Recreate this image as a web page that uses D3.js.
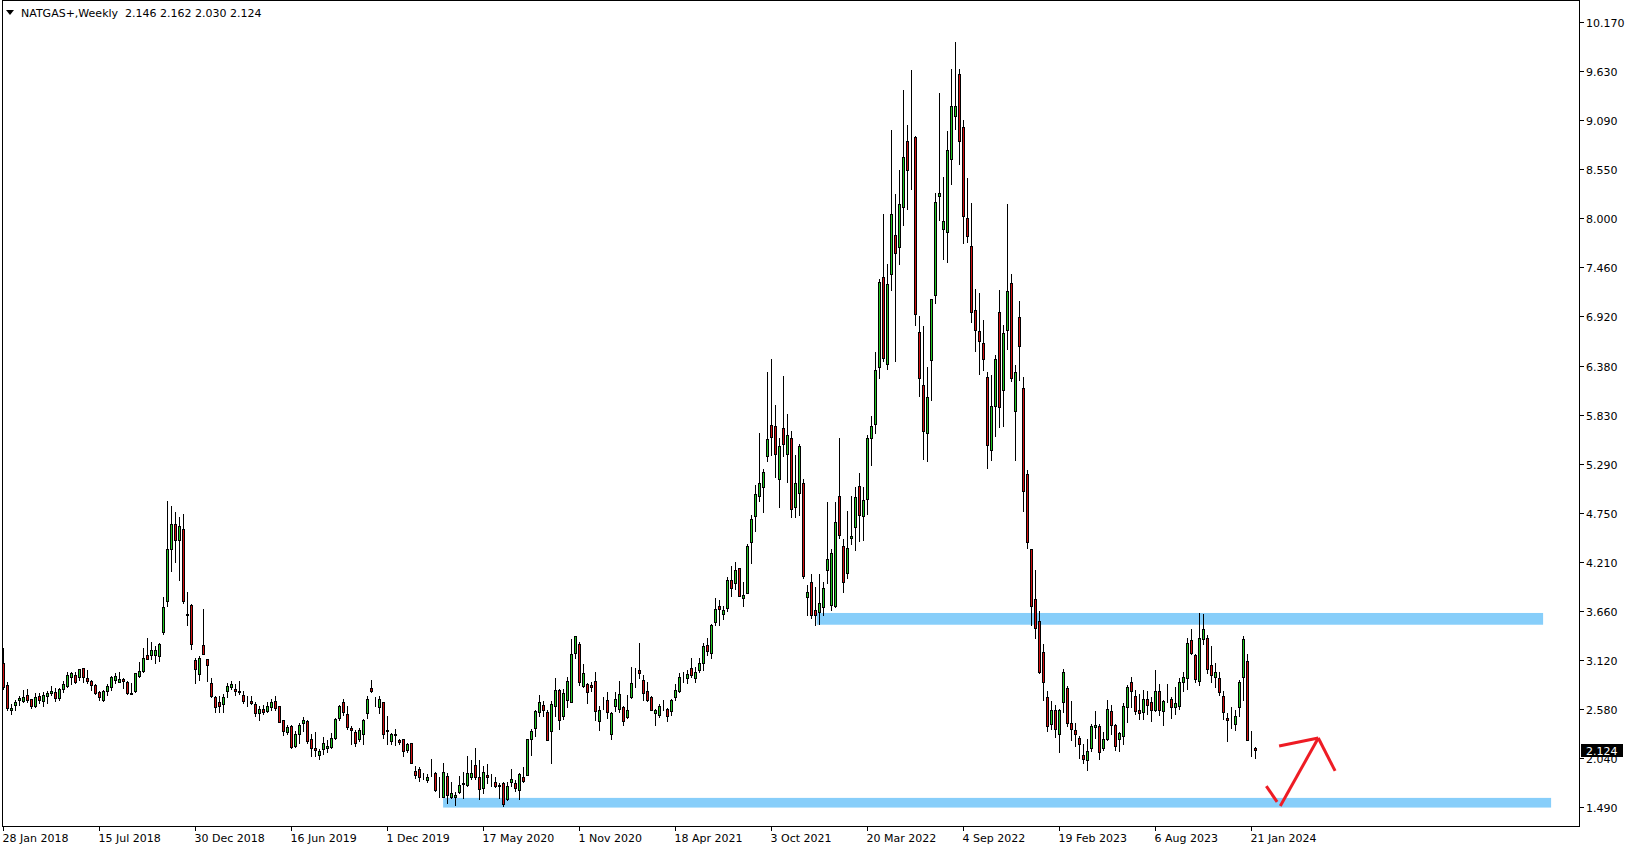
<!DOCTYPE html>
<html><head><meta charset="utf-8">
<script src="https://cdn.jsdelivr.net/npm/d3@7"></script>
<style>html,body{margin:0;padding:0;background:#fff;overflow:hidden}</style>
</head><body><svg id="c" width="1629" height="850"></svg>
<script>
// ---------- DATA ----------
const symbolTitle = "NATGAS+,Weekly";
const firstWeek = "2018-01-28";
const open = [
3.09,2.84,2.56,2.62,2.68,2.67,2.73,2.69,2.61,2.72,
2.66,2.72,2.75,2.76,2.70,2.80,2.83,2.93,2.95,2.93,
3.03,2.92,2.89,2.84,2.76,2.68,2.78,2.82,2.90,2.88,
2.91,2.88,2.74,2.77,2.94,3.00,3.17,3.17,3.17,3.16,
3.43,3.77,4.35,4.62,4.45,4.57,3.63,3.73,3.12,2.96,
3.28,3.13,2.86,2.71,2.65,2.63,2.77,2.82,2.80,2.78,
2.73,2.67,2.67,2.63,2.53,2.58,2.55,2.60,2.67,2.61,
2.45,2.32,2.39,2.17,2.30,2.42,2.44,2.24,2.14,2.07,
2.13,2.15,2.16,2.26,2.48,2.65,2.52,2.37,2.32,2.25,
2.30,2.53,2.81,2.66,2.60,2.65,2.34,2.22,2.30,2.23,
2.24,2.12,2.20,1.89,1.91,1.84,1.79,1.89,1.87,1.72,
1.60,1.84,1.60,1.60,1.66,1.76,1.74,1.82,1.96,1.82,
1.70,1.85,1.79,1.77,1.74,1.76,1.58,1.77,1.76,1.68,
1.82,1.85,2.25,2.37,2.54,2.62,2.54,2.33,2.61,2.79,
2.50,2.68,2.65,3.20,3.30,2.83,2.85,2.84,2.89,2.44,
2.67,2.68,2.30,2.61,2.58,2.60,2.49,2.71,2.90,3.01,
2.90,2.78,2.71,2.53,2.51,2.61,2.58,2.55,2.71,2.78,
2.93,2.92,3.03,2.92,3.01,3.08,3.28,3.19,3.54,3.71,
3.63,3.69,4.00,3.97,4.14,3.80,3.86,4.42,4.71,4.93,
5.03,5.37,5.72,5.71,5.12,5.68,5.40,5.57,4.81,4.96,
5.07,3.81,3.98,3.67,3.65,3.70,4.11,3.73,3.72,4.93,
4.38,4.08,4.47,4.59,5.04,4.71,4.90,5.57,5.73,6.36,
7.35,6.39,7.39,7.82,7.68,8.13,8.85,8.74,8.90,6.74,
6.16,5.63,6.43,7.15,8.25,7.88,7.85,8.66,9.13,9.59,
9.01,8.00,7.69,6.99,6.76,6.62,6.25,5.44,5.93,6.96,
6.10,6.77,7.28,5.87,6.91,6.13,5.17,4.34,3.79,3.55,
3.21,2.71,2.41,2.56,2.30,2.65,2.81,2.42,2.34,2.26,
2.07,2.01,2.14,2.38,2.39,2.14,2.25,2.55,2.40,2.25,
2.28,2.60,2.87,2.72,2.57,2.54,2.69,2.65,2.56,2.78,
2.55,2.73,2.69,2.60,2.61,2.87,2.92,3.34,3.17,2.89,
3.35,3.36,3.06,2.93,2.92,2.72,2.48,2.49,2.41,2.60,
2.93,3.11,2.16,2.146];
const high = [
3.25,2.88,2.63,2.68,2.72,2.79,2.80,2.69,2.75,2.75,
2.76,2.78,2.83,2.81,2.81,2.89,2.99,2.99,2.98,3.02,
3.03,3.01,2.90,2.85,2.78,2.79,2.85,2.94,2.97,2.99,
2.92,2.89,2.86,2.97,3.10,3.25,3.36,3.32,3.27,3.31,
3.81,4.88,4.82,4.75,4.70,4.73,3.87,3.74,3.14,3.16,
3.68,3.13,2.92,2.72,2.72,2.74,2.86,2.89,2.85,2.89,
2.77,2.72,2.72,2.65,2.61,2.62,2.65,2.69,2.72,2.61,
2.46,2.40,2.40,2.33,2.42,2.49,2.45,2.30,2.32,2.13,
2.27,2.23,2.31,2.48,2.62,2.69,2.61,2.39,2.34,2.37,
2.47,2.72,2.90,2.71,2.72,2.65,2.50,2.31,2.36,2.24,
2.25,2.20,2.20,1.95,1.94,1.87,1.86,2.02,1.88,1.83,
1.98,1.87,1.77,1.66,1.84,1.88,2.06,2.01,2.15,2.01,
1.95,1.97,1.86,1.82,1.76,1.77,1.77,1.91,1.79,1.87,
1.93,2.24,2.36,2.57,2.73,2.66,2.57,2.66,2.92,2.80,
2.80,2.93,3.35,3.38,3.32,3.07,2.86,2.87,2.99,2.61,
2.71,2.76,2.54,2.76,2.89,2.61,2.73,3.04,3.03,3.31,
2.95,2.88,2.72,2.58,2.63,2.68,2.59,2.69,2.85,2.97,
2.99,3.01,3.14,3.04,3.14,3.31,3.36,3.52,3.80,3.78,
3.71,4.04,4.16,4.20,4.14,3.98,4.40,4.72,5.05,5.63,
5.23,6.30,6.45,5.94,5.57,6.26,5.84,5.65,5.38,5.51,
5.12,3.95,4.07,3.92,4.07,3.98,4.87,4.34,4.87,5.57,
4.46,4.77,4.93,5.03,5.18,5.03,5.61,5.82,6.52,7.33,
8.05,7.50,8.98,8.27,8.53,9.42,9.03,9.64,8.91,6.92,
6.81,6.36,7.11,8.28,9.39,8.46,8.96,9.65,9.95,9.65,
9.09,8.45,8.17,7.22,7.17,6.88,6.30,6.27,6.49,7.21,
6.82,8.16,7.39,6.38,7.09,6.25,5.22,4.34,4.11,3.66,
3.30,2.78,2.66,2.62,2.58,3.02,2.83,2.67,2.42,2.28,
2.19,2.24,2.41,2.55,2.41,2.32,2.68,2.62,2.41,2.32,
2.64,2.84,2.93,2.79,2.74,2.79,2.77,2.71,3.01,2.85,
2.68,2.85,2.71,2.82,2.92,2.98,3.36,3.46,3.18,3.64,
3.63,3.39,3.27,3.08,2.99,2.78,2.53,2.60,2.57,2.90,
3.38,3.18,2.33,2.162];
const low = [
2.80,2.56,2.52,2.57,2.62,2.65,2.65,2.59,2.60,2.64,
2.61,2.64,2.73,2.67,2.68,2.76,2.82,2.85,2.86,2.90,
2.87,2.86,2.79,2.74,2.68,2.67,2.73,2.79,2.86,2.87,
2.81,2.74,2.74,2.76,2.93,2.99,3.13,3.13,3.09,3.11,
3.41,3.72,4.10,4.20,4.00,3.75,3.50,3.24,2.86,2.90,
3.18,2.89,2.71,2.54,2.54,2.54,2.71,2.80,2.73,2.74,
2.64,2.61,2.63,2.50,2.46,2.52,2.54,2.56,2.57,2.43,
2.29,2.30,2.14,2.16,2.20,2.33,2.20,2.06,2.06,2.02,
2.08,2.10,2.15,2.25,2.46,2.51,2.36,2.19,2.17,2.22,
2.19,2.48,2.76,2.61,2.53,2.26,2.19,2.19,2.18,2.19,
2.06,2.10,1.98,1.81,1.78,1.80,1.77,1.84,1.67,1.60,
1.60,1.54,1.59,1.51,1.65,1.59,1.73,1.80,1.80,1.58,
1.65,1.76,1.73,1.71,1.59,1.50,1.57,1.72,1.67,1.58,
1.77,1.85,2.07,2.28,2.50,2.50,2.23,1.98,2.50,2.36,
2.47,2.60,2.65,3.14,2.84,2.82,2.64,2.77,2.45,2.34,
2.58,2.48,2.25,2.55,2.54,2.40,2.48,2.70,2.82,2.92,
2.68,2.66,2.56,2.40,2.49,2.56,2.44,2.51,2.68,2.76,
2.88,2.86,2.93,2.88,2.99,3.01,3.17,3.14,3.51,3.50,
3.57,3.66,3.82,3.90,3.83,3.72,3.86,4.19,4.54,4.88,
4.75,5.32,5.38,5.14,4.81,5.37,5.09,4.70,4.70,4.72,
4.03,3.61,3.58,3.50,3.52,3.62,3.97,3.67,3.70,4.47,
3.87,4.02,4.40,4.33,4.43,4.44,4.73,5.27,5.63,6.23,
6.42,6.33,7.21,6.42,7.50,7.93,8.10,8.32,6.82,6.04,
5.34,5.32,5.99,7.06,7.98,7.55,7.52,8.38,8.99,8.60,
7.73,7.74,6.85,6.53,6.28,6.32,5.24,5.33,5.59,5.69,
5.71,6.56,6.20,5.33,6.21,4.76,4.36,3.51,3.36,2.97,
2.68,2.33,2.35,2.27,2.10,2.54,2.39,2.23,2.17,2.04,
1.98,1.90,2.11,2.26,2.02,2.12,2.23,2.30,2.12,2.11,
2.19,2.43,2.60,2.52,2.47,2.47,2.52,2.44,2.55,2.51,
2.40,2.65,2.48,2.52,2.58,2.78,2.80,3.18,2.87,2.84,
3.30,2.97,2.88,2.82,2.73,2.47,2.22,2.37,2.34,2.50,
2.68,2.23,2.06,2.030];
const close = [
2.82,2.59,2.59,2.65,2.70,2.71,2.68,2.61,2.71,2.68,
2.73,2.75,2.77,2.70,2.80,2.85,2.95,2.97,2.88,3.02,
2.93,2.89,2.84,2.75,2.71,2.78,2.83,2.93,2.94,2.91,
2.89,2.75,2.75,2.97,3.00,3.14,3.13,3.23,3.23,3.29,
3.70,4.35,4.62,4.45,4.60,3.77,3.62,3.29,3.02,3.14,
3.18,3.06,2.72,2.60,2.61,2.71,2.83,2.85,2.77,2.76,
2.66,2.66,2.64,2.53,2.58,2.54,2.61,2.65,2.59,2.43,
2.33,2.38,2.16,2.30,2.40,2.46,2.22,2.14,2.12,2.11,
2.20,2.17,2.26,2.47,2.61,2.54,2.38,2.34,2.20,2.34,
2.46,2.69,2.77,2.66,2.69,2.30,2.33,2.30,2.29,2.21,
2.11,2.19,1.98,1.85,1.83,1.84,1.83,1.89,1.68,1.72,
1.88,1.63,1.65,1.63,1.74,1.75,1.87,1.87,1.82,1.69,
1.88,1.82,1.79,1.73,1.72,1.53,1.73,1.80,1.70,1.86,
1.78,2.24,2.33,2.55,2.65,2.57,2.23,2.63,2.79,2.46,
2.75,2.89,3.18,3.38,2.88,2.97,2.76,2.82,2.55,2.57,
2.67,2.54,2.53,2.69,2.74,2.44,2.57,2.86,2.90,2.97,
2.75,2.68,2.57,2.57,2.61,2.61,2.50,2.68,2.79,2.93,
2.93,2.96,2.95,2.98,3.08,3.27,3.22,3.51,3.68,3.68,
3.67,4.00,3.91,4.11,3.83,3.84,4.38,4.68,4.95,5.08,
5.20,5.56,5.58,5.40,5.48,5.51,5.60,4.79,5.08,5.48,
4.05,3.87,3.61,3.61,3.75,3.91,4.23,4.30,4.64,4.50,
3.98,4.36,4.49,4.92,4.72,4.89,5.57,5.70,6.32,7.30,
6.46,7.27,8.05,7.62,8.16,8.68,8.53,8.74,6.94,6.23,
5.65,6.03,7.11,8.18,8.28,7.97,8.75,9.24,9.24,8.86,
8.03,7.81,6.97,6.77,6.64,6.45,5.50,5.93,6.44,5.91,
6.73,7.20,6.24,6.30,6.59,4.99,4.42,3.72,3.47,2.99,
2.87,2.39,2.56,2.35,2.56,2.98,2.42,2.36,2.30,2.19,
2.02,2.11,2.39,2.40,2.10,2.25,2.58,2.40,2.17,2.31,
2.61,2.82,2.77,2.55,2.53,2.69,2.62,2.57,2.78,2.56,
2.66,2.73,2.60,2.64,2.87,2.93,3.31,3.20,2.91,3.36,
3.46,3.02,2.95,2.98,2.76,2.54,2.45,2.49,2.50,2.87,
3.35,2.23,2.16,2.124];

const priceTickValues = [1.49,2.0325,2.575,3.1175,3.66,4.2025,4.745,5.2875,5.83,6.3725,6.915,7.4575,8.0,8.5425,9.085,9.6275,10.17];
const priceTickLabels = ["1.490","2.040","2.580","3.120","3.660","4.210","4.750","5.290","5.830","6.380","6.920","7.460","8.000","8.550","9.090","9.630","10.170"];
const dateTickLabels = ["28 Jan 2018","15 Jul 2018","30 Dec 2018","16 Jun 2019","1 Dec 2019","17 May 2020","1 Nov 2020","18 Apr 2021","3 Oct 2021","20 Mar 2022","4 Sep 2022","19 Feb 2023","6 Aug 2023","21 Jan 2024"];

// drawn objects, in (week index, price) units
const zoneStart = [203.3, 109.9];
const zoneEnd = [384.9, 386.9];
const zoneLow = [3.508, 1.487];
const zoneHigh = [3.638, 1.594];
const arrowWeeks = [[315.7,318.4],[319.2,328.7],[328.7,332.9],[318.9,328.7]];
const arrowPrices = [[1.725,1.549],[1.504,2.256],[2.256,1.892],[2.168,2.256]];

// ---------- CHART ----------
const W = 1629, H = 850;
const plotL = 2, plotR = 1579, plotT = 0, plotB = 826;
const svg = d3.select("#c");
svg.append("rect").attr("width", W).attr("height", H).attr("fill", "#fff");

const n = close.length;
const x = d3.scaleLinear().domain([0, 393]).range([3.5, 1575.5]);
const y = d3.scaleLinear().domain([1.49, 10.17]).range([807.3, 22]);
const start = d3.utcParse("%Y-%m-%d")(firstWeek);
const parseLbl = d3.utcParse("%e %b %Y");
const weekIndex = s => Math.round((parseLbl(s) - start) / (7 * 864e5));

const plot = svg.append("g");
plot.append("defs").append("clipPath").attr("id", "clip")
  .append("rect").attr("x", plotL + 1).attr("y", plotT + 1)
  .attr("width", plotR - plotL - 1).attr("height", plotB - plotT - 1);
const inner = plot.append("g").attr("clip-path", "url(#clip)");

// zones
inner.selectAll("rect.zone").data(zoneStart).join("rect")
  .attr("class", "zone")
  .attr("x", (d) => x(d))
  .attr("width", (d, i) => x(zoneEnd[i]) - x(d))
  .attr("y", (d, i) => y(zoneHigh[i]))
  .attr("height", (d, i) => y(zoneLow[i]) - y(zoneHigh[i]))
  .attr("fill", "#87cefa");

// candles
const idx = d3.range(n);
const cg = inner.append("g").attr("shape-rendering", "crispEdges");
cg.selectAll("line.wick").data(idx).join("line")
  .attr("x1", i => x(i)).attr("x2", i => x(i))
  .attr("y1", i => Math.round(y(high[i])))
  .attr("y2", i => Math.round(y(low[i])) + 1)
  .attr("stroke", "#000").attr("stroke-width", 1);
cg.selectAll("rect.body").data(idx).join("rect")
  .attr("x", i => x(i) - 1)
  .attr("width", 2)
  .attr("y", i => Math.round(y(Math.max(open[i], close[i]))) + 0.5)
  .attr("height", i => Math.round(y(Math.min(open[i], close[i]))) - Math.round(y(Math.max(open[i], close[i]))))
  .attr("fill", i => close[i] > open[i] ? "#22c522" : (close[i] < open[i] ? "#d01010" : "#000"))
  .attr("stroke", "#000").attr("stroke-width", 1);

// arrow annotation
inner.selectAll("line.arrow").data(arrowWeeks).join("line")
  .attr("x1", d => x(d[0])).attr("x2", d => x(d[1]))
  .attr("y1", (d, i) => y(arrowPrices[i][0])).attr("y2", (d, i) => y(arrowPrices[i][1]))
  .attr("stroke", "#ee1c24").attr("stroke-width", 3).attr("stroke-linecap", "butt");

// frame
svg.append("rect").attr("x", plotL + 0.5).attr("y", plotT + 0.5)
  .attr("width", plotR - plotL).attr("height", plotB - plotT)
  .attr("fill", "none").attr("stroke", "#000").attr("stroke-width", 1)
  .attr("shape-rendering", "crispEdges");

const font = "DejaVu Sans";
// price axis
const ya = svg.append("g").attr("font-family", font).attr("font-size", 11);
ya.selectAll("line").data(priceTickValues).join("line")
  .attr("x1", plotR + 0.5).attr("x2", plotR + 4.5)
  .attr("y1", d => Math.round(y(d)) + 0.5).attr("y2", d => Math.round(y(d)) + 0.5)
  .attr("stroke", "#000").attr("shape-rendering", "crispEdges");
ya.selectAll("text").data(priceTickValues).join("text")
  .attr("x", 1586).attr("y", d => Math.round(y(d)) + 4.5)
  .attr("fill", "#000")
  .text((d, i) => priceTickLabels[i]);

// time axis
const xa = svg.append("g").attr("font-family", font).attr("font-size", 11);
xa.selectAll("line").data(dateTickLabels).join("line")
  .attr("x1", d => Math.floor(x(weekIndex(d))) + 0.5).attr("x2", d => Math.floor(x(weekIndex(d))) + 0.5)
  .attr("y1", plotB).attr("y2", plotB + 5)
  .attr("stroke", "#000").attr("shape-rendering", "crispEdges");
xa.selectAll("text").data(dateTickLabels).join("text")
  .attr("x", d => x(weekIndex(d)) - 1).attr("y", 842)
  .attr("fill", "#000")
  .text(d => d);

// last price label
const last = close[n - 1];
const ly = Math.round(y(last));
svg.append("rect").attr("x", 1581).attr("y", ly - 6).attr("width", 42).attr("height", 13).attr("fill", "#000");
svg.append("text").attr("x", 1586).attr("y", ly + 4.5).attr("font-family", font).attr("font-size", 11)
  .attr("fill", "#fff").text(last.toFixed(3));

// header
svg.append("path").attr("d", "M6,10 L14,10 L10,15 Z").attr("fill", "#000");
svg.append("text").attr("x", 21).attr("y", 17).attr("font-family", font).attr("font-size", 11)
  .attr("fill", "#000").attr("xml:space", "preserve")
  .text(`${symbolTitle}  ${open[n-1].toFixed(3)} ${high[n-1].toFixed(3)} ${low[n-1].toFixed(3)} ${close[n-1].toFixed(3)}`);
</script></body></html>
